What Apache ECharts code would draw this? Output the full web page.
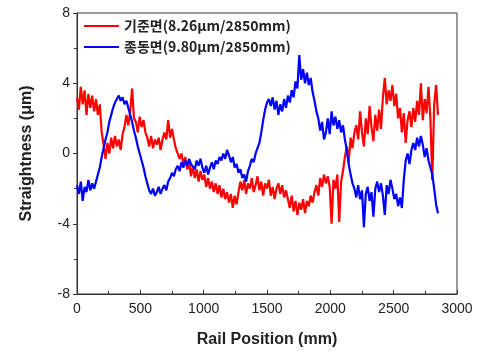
<!DOCTYPE html>
<html><head><meta charset="utf-8">
<script src="https://cdn.jsdelivr.net/npm/echarts@6/dist/echarts.min.js"></script>
<style>html,body{margin:0;padding:0;background:#fff}#c{width:483px;height:355px}</style>
</head><body><div id="c"></div>
<script>
const seriesNames = ['기준면(8.26μm/2850mm)', '종동면(9.80μm/2850mm)'];
const xMax = 2850;
const xTicks = [0, 500, 1000, 1500, 2000, 2500, 3000];
const yTicks = [-8, -4, 0, 4, 8];
const redValues = [
 3.2,2.5,3.8,2.8,3.6,2.2,3.4,2.6,3.3,2.4,3.1,
 2.2,2.8,1.2,
 0.5,-0.3,0.6,0.0,
 0.9,0.3,1.0,0.4,0.8,0.2,1.1,
 1.5,2.2,1.6,2.4,
 3.7,2.0,1.8,1.2,2.1,1.5,1.9,1.2,
 0.9,0.4,1.0,0.3,0.8,0.5,0.9,0.2,0.8,
 1.2,0.8,1.9,0.9,1.4,
 0.8,0.3,0.4,-0.3,0.0,-0.6,-0.2,
 -0.9,-0.5,-1.3,-0.7,-1.4,-0.9,-1.6,-1.0,-1.5,
 -1.2,-1.9,-1.4,-2.0,-1.6,-2.2,-1.7,
 -2.3,-1.8,-2.5,-2.0,-2.6,-2.2,-2.8,-2.3,-3.1,-2.4,-2.9,-2.2,
 -1.6,-2.1,-1.5,-2.3,-1.7,-2.0,-1.4,-2.2,-1.8,-1.3,-2.1,-1.6,-2.4,-1.7,
 -2.0,-1.5,-2.4,-1.9,-2.6,-2.0,-1.7,-2.3,-1.8,-2.5,-2.1,
 -2.6,-3.1,-2.4,-3.3,-2.7,-3.5,-2.8,-3.2,-2.6,-3.4,-2.7,-3.0,-2.4,-2.8,
 -2.2,-1.8,-2.4,-1.4,-1.9,-1.2,-1.7,
 -1.3,-1.9,-4.0,-1.5,-2.0,-1.2,-3.9,-1.6,-1.0,
 -0.2,0.4,-0.5,0.9,0.3,1.2,
 1.6,0.8,2.4,1.2,0.4,2.0,1.1,2.7,1.5,0.7,2.2,1.3,2.5,1.4,
 3.2,4.3,2.8,3.6,3.0,3.9,2.7,3.4,
 2.0,2.6,1.2,2.3,0.6,1.9,2.4,1.5,
 2.6,1.8,3.0,2.2,4.0,1.9,3.1,2.3,3.8,2.0,
 -1.5,2.8,3.9,2.2
];
const blueValues = [
 -1.8,-2.3,-1.6,-2.7,-1.9,-2.2,-1.5,-2.1,-1.7,-2.0,-1.6,
 -1.2,-0.8,-0.2,0.3,0.8,1.2,1.8,
 2.2,2.6,2.9,3.1,3.3,3.0,
 3.2,2.8,3.0,2.6,
 2.2,1.8,1.3,0.9,0.4,0.0,-0.4,-0.8,-1.3,
 -1.7,-2.1,-2.3,-2.0,-2.4,-2.2,-1.9,-2.3,-2.0,-1.8,-2.1,-1.6,
 -1.4,-1.1,-1.3,-0.9,-0.7,-1.0,-0.5,
 -0.8,-0.4,-0.7,-0.3,-0.6,-0.5,-0.9,-0.4,-0.7,-0.3,-0.8,
 -1.1,-0.7,-1.2,-0.8,-0.5,-0.9,-0.4,
 -0.6,-0.2,-0.4,0.0,-0.3,0.2,-0.1,-0.5,-0.2,
 -0.8,-0.6,-1.1,-0.9,-1.4,-1.2,-1.6,
 -1.0,-0.7,-0.3,-0.5,0.0,0.3,0.6,
 1.2,1.9,2.5,2.9,3.1,
 2.7,3.2,2.5,3.0,2.2,2.8,2.4,3.1,2.6,3.3,2.9,
 3.6,3.2,4.1,3.7,5.6,4.2,4.8,
 4.0,4.6,3.9,4.3,3.5,
 3.0,2.4,2.0,1.3,1.8,0.8,1.2,
 2.0,1.1,2.4,1.6,2.1,1.4,1.9,1.2,
 1.6,0.8,0.2,-0.6,-1.2,-1.7,
 -2.0,-2.5,-1.8,-2.6,-2.1,-4.2,-2.3,-1.9,-2.7,-2.2,-3.6,-2.0,
 -1.6,-2.2,-1.7,-2.4,-3.5,-1.8,-2.3,-1.5,-2.0,-2.6,
 -2.3,-3.0,-2.5,-3.1,
 -1.5,-0.4,0.0,-0.6,0.2,
 0.6,0.2,0.9,0.4,1.0,0.5,
 -0.2,0.3,-0.4,-0.3,
 -1.2,-2.0,-2.9,-3.4
];
function pairs(vals){ const n = vals.length; return vals.map((v,i)=>[i*xMax/(n-1), v]); }
const chart = echarts.init(document.getElementById('c'));
const axisCol = '#333';
chart.setOption({
  animation:false,
  grid:{left:77,right:26,top:13,bottom:61,show:true,borderColor:axisCol,borderWidth:1},
  legend:{
    orient:'vertical', left:79, top:14, itemWidth:35, itemHeight:10, itemGap:7,
    icon:'path://M0,4L35,4L35,6L0,6Z',
    textStyle:{fontFamily:'"Noto Sans CJK KR", Arial', fontSize:14, fontWeight:'bold', color:'#222'},
    data:seriesNames
  },
  xAxis:{type:'value', min:0, max:3000, interval:500,
    name:'Rail Position (mm)', nameLocation:'middle', nameGap:38,
    nameTextStyle:{fontFamily:'Liberation Sans, Arial', fontSize:16, fontWeight:'bold', color:'#222'},
    axisLine:{onZero:false,lineStyle:{color:axisCol}},
    axisTick:{inside:true,length:4,lineStyle:{color:axisCol}},
    minorTick:{show:true,splitNumber:2,length:3,lineStyle:{color:axisCol}},
    axisLabel:{fontFamily:'Liberation Sans, Arial', fontSize:14, color:'#222', margin:8, formatter:v=>String(v)},
    splitLine:{show:false}
  },
  yAxis:{type:'value', min:-8, max:8, interval:4,
    name:'Straightness (μm)', nameLocation:'middle', nameGap:42,
    nameTextStyle:{fontFamily:'Liberation Sans, Arial', fontSize:16, fontWeight:'bold', color:'#222'},
    axisLine:{show:true,onZero:false,lineStyle:{color:axisCol}},
    axisTick:{show:true,inside:false,length:4,lineStyle:{color:axisCol}},
    minorTick:{show:true,splitNumber:2,length:3,lineStyle:{color:axisCol}},
    axisLabel:{fontFamily:'Liberation Sans, Arial', fontSize:14, color:'#222', margin:7, formatter:v=>String(v)},
    splitLine:{show:false}
  },
  series:[
    {name:seriesNames[0], type:'line', data:pairs(redValues), showSymbol:false, color:'#ff0000', lineStyle:{width:2.2,color:'#ff0000'}, z:2},
    {name:seriesNames[1], type:'line', data:pairs(blueValues), showSymbol:false, color:'#0000ff', lineStyle:{width:2.2,color:'#0000ff'}, z:3}
  ]
});
</script></body></html>
